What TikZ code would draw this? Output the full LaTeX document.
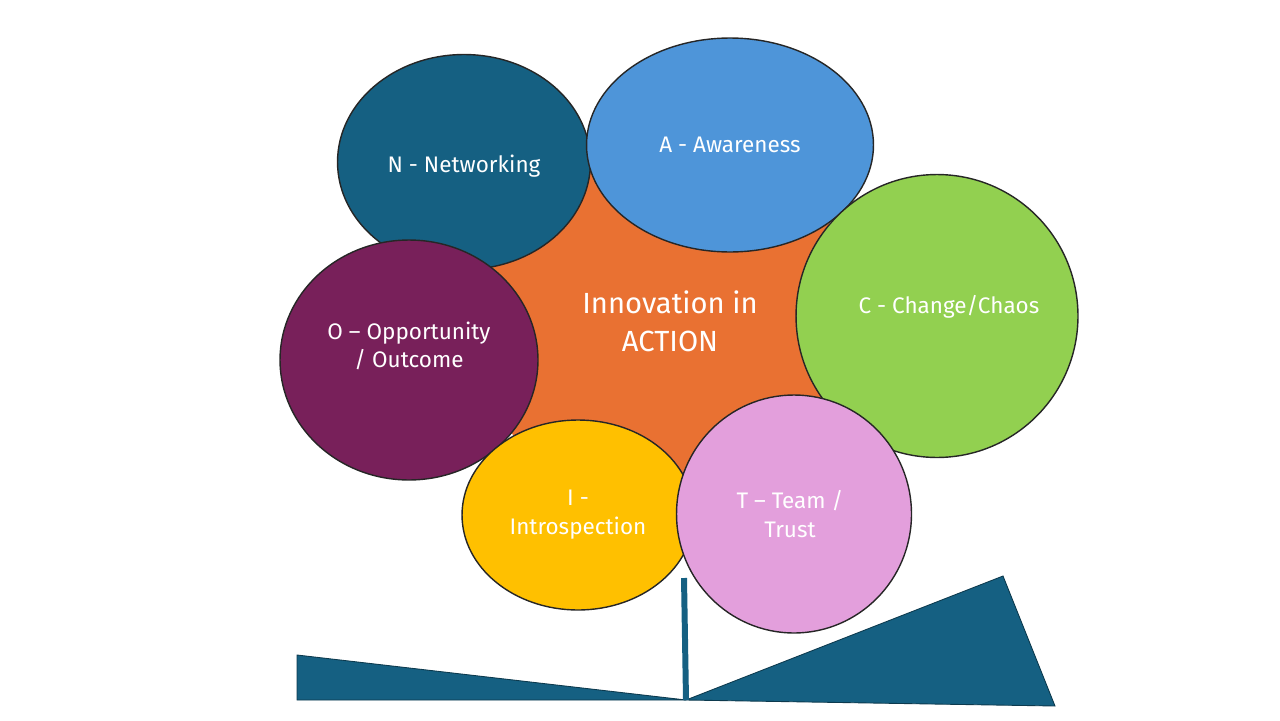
\documentclass[tikz,border=0pt]{standalone}
\usepackage{fontspec}
\setmainfont{Fira Sans}
\usetikzlibrary{shapes.geometric}
\definecolor{deepteal}{HTML}{156082}
\definecolor{skyblue}{HTML}{4E95D9}
\definecolor{limegreen}{HTML}{92D050}
\definecolor{plum}{HTML}{78205A}
\definecolor{gold}{HTML}{FFC000}
\definecolor{lilac}{HTML}{E39FDC}
\definecolor{tangerine}{HTML}{E97132}

\begin{document}
\begin{tikzpicture}[x=0.02cm,y=-0.02cm,
  hub/.style={circle,fill=tangerine,minimum size=7.6cm,inner sep=0pt},
  petal/.style={ellipse,draw=black!85,line width=0.8pt,inner sep=0pt},
  lbl/.style={align=center,text=white,font=\fontsize{12.8}{16.4}\selectfont},
  biglbl/.style={align=center,text=white,font=\fontsize{16.6}{21.5}\selectfont},
  wedge/.style={fill=deepteal,draw=deepteal!60!black,line width=0.5pt}]
  \useasboundingbox (0,0) rectangle (1280,720);
  \node[hub,label={[biglbl,yshift=4pt]center:Innovation in\\ACTION}] (hub) at (670,328) {};
  \node[petal,fill=deepteal,minimum width=5.06cm,minimum height=4.3cm,
        label={[lbl,yshift=-2.3pt]center:N - Networking}] (net) at (464,162) {};
  \node[petal,fill=skyblue,minimum width=5.74cm,minimum height=4.28cm,
        label={[lbl]center:A - Awareness}] (aware) at (730,145) {};
  \node[petal,fill=limegreen,minimum width=5.64cm,minimum height=5.66cm,
        label={[lbl,xshift=6.8pt,yshift=5pt]center:C - Change/Chaos}] (change) at (937,316) {};
  \node[petal,fill=plum,minimum width=5.16cm,minimum height=4.8cm,
        label={[lbl,yshift=8pt]center:O -- Opportunity\\/ Outcome}] (opp) at (409,360) {};
  \node[petal,fill=gold,minimum width=4.64cm,minimum height=3.8cm,
        label={[lbl]center:I -\\Introspection}] (intro) at (578,515) {};
  \node[petal,fill=lilac,minimum width=4.7cm,minimum height=4.76cm,
        label={[lbl,xshift=-2.3pt]center:T -- Team /\\Trust}] (team) at (794,514) {};
  % seesaw
  \fill[wedge] (297,655) -- (297,700) -- (686,700) -- cycle;
  \fill[wedge] (686,700) -- (1003,576) -- (1055,706) -- cycle;
  \draw[deepteal,line width=3.4pt] (684,578) -- (686,700);
\end{tikzpicture}
\end{document}
